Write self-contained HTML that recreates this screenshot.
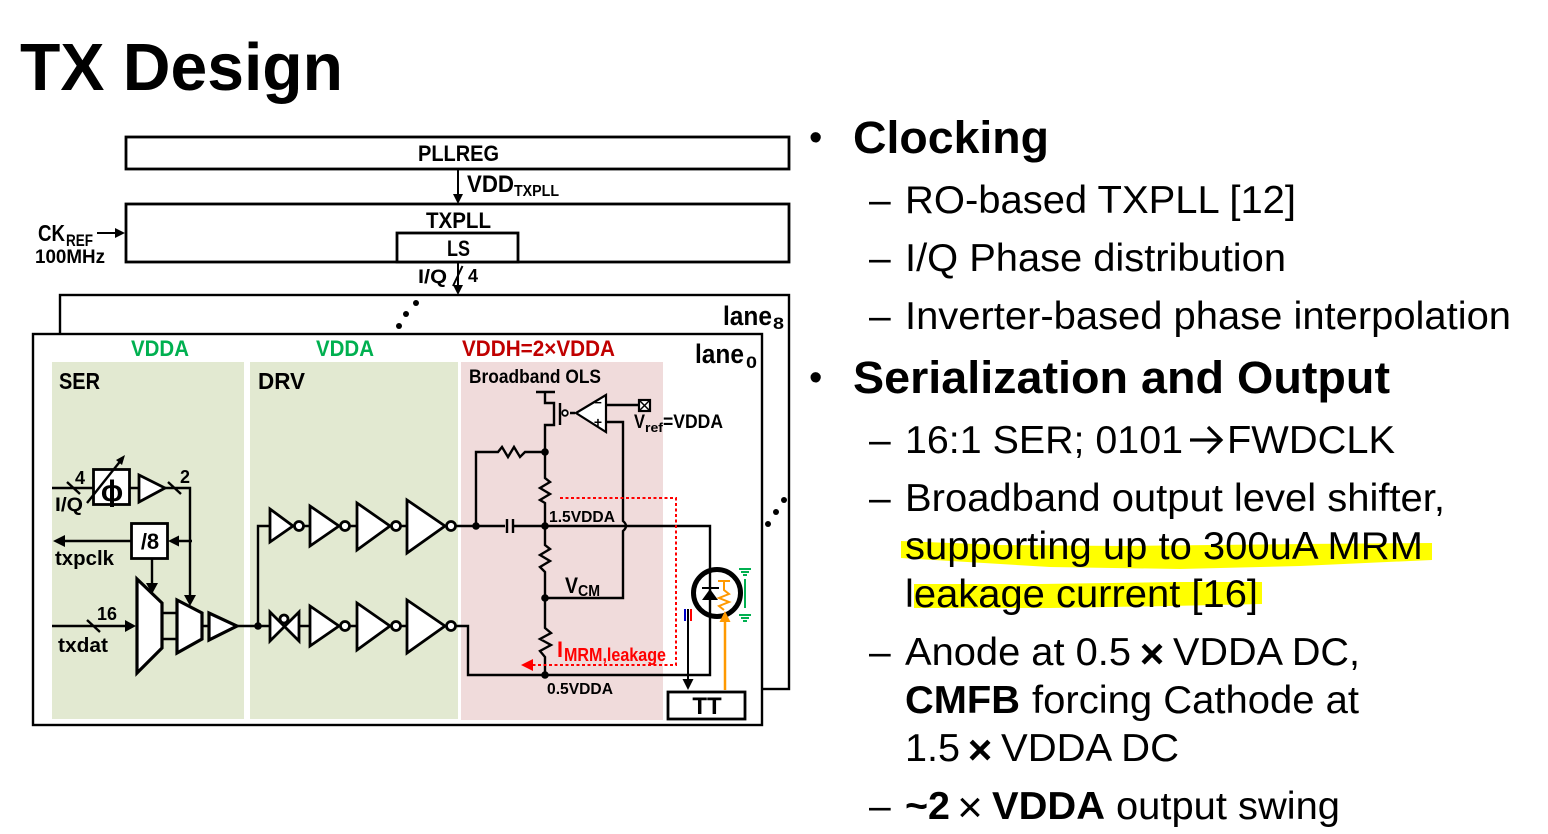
<!DOCTYPE html>
<html><head><meta charset="utf-8"><style>
html,body{margin:0;padding:0;background:#fff}
svg{display:block}
text{font-family:"Liberation Sans",sans-serif;fill:#000}
.b{font-weight:bold}
.l{font-weight:bold;font-size:22px}
.s{font-weight:bold;font-size:14px}
.t{font-size:39px}
.h{font-size:45px;font-weight:bold}
.w{fill:none;stroke:#000;stroke-width:2.4}
.g{fill:#fff;stroke:#000;stroke-width:3.2}
.c{fill:#fff;stroke:#000;stroke-width:2.8}
</style></head><body>
<svg xmlns="http://www.w3.org/2000/svg" width="1548" height="834" viewBox="0 0 1548 834">
<rect width="1548" height="834" fill="#fff"/>
<text x="20" y="90" class="b" font-size="67" textLength="323" lengthAdjust="spacingAndGlyphs">TX Design</text>

<!-- top blocks -->
<rect x="126" y="137" width="663" height="32" fill="#fff" stroke="#000" stroke-width="2.8"/>
<rect x="126" y="204" width="663" height="58" fill="#fff" stroke="#000" stroke-width="2.8"/>
<rect x="397" y="233" width="121" height="29" fill="#fff" stroke="#000" stroke-width="2.8"/>
<text x="418" y="161" class="l" textLength="81" lengthAdjust="spacingAndGlyphs">PLLREG</text>
<text x="426" y="228" class="l" textLength="65" lengthAdjust="spacingAndGlyphs">TXPLL</text>
<text x="447" y="256" class="l" textLength="23" lengthAdjust="spacingAndGlyphs">LS</text>
<path class="w" d="M458 169V198M458 262V288M462.500 266L453 286M97 233H118" style="stroke-width:2"/>
<path d="M458 204l-5-10h10zM458 295l-5-10h10zM125 233l-10-5v10z"/>
<text x="467" y="192" class="l" style="font-size:24px" textLength="47" lengthAdjust="spacingAndGlyphs">VDD</text>
<text x="514" y="196" class="s" style="font-size:16px" textLength="45" lengthAdjust="spacingAndGlyphs">TXPLL</text>
<text x="38" y="241" class="l" style="font-size:23px" textLength="27" lengthAdjust="spacingAndGlyphs">CK</text>
<text x="66" y="246" class="s" style="font-size:17px" textLength="27" lengthAdjust="spacingAndGlyphs">REF</text>
<text x="35" y="263" class="s" style="font-size:19px" textLength="70" lengthAdjust="spacingAndGlyphs">100MHz</text>
<text x="418" y="283" class="s" style="font-size:19px" textLength="29" lengthAdjust="spacingAndGlyphs">I/Q</text>
<text x="468" y="282" class="s" style="font-size:18px" textLength="10" lengthAdjust="spacingAndGlyphs">4</text>

<!-- lanes -->
<rect x="60" y="295" width="729" height="394" fill="#fff" stroke="#000" stroke-width="2.4"/>
<rect x="33" y="334" width="729" height="391" fill="#fff" stroke="#000" stroke-width="2.4"/>
<circle cx="399" cy="326" r="3"/><circle cx="406" cy="314" r="3"/><circle cx="416" cy="303" r="3"/>
<circle cx="768" cy="524" r="3"/><circle cx="776" cy="512" r="3"/><circle cx="784" cy="500" r="3"/>
<text x="723" y="325" class="l" style="font-size:27px" textLength="49" lengthAdjust="spacingAndGlyphs">lane</text>
<text x="773" y="329" class="s" style="font-size:17px" textLength="11" lengthAdjust="spacingAndGlyphs">8</text>
<text x="695" y="363" class="l" style="font-size:27px" textLength="49" lengthAdjust="spacingAndGlyphs">lane</text>
<text x="746" y="368" class="s" style="font-size:17px" textLength="11" lengthAdjust="spacingAndGlyphs">0</text>

<!-- panels -->
<rect x="52" y="362" width="192" height="357" fill="#e2e9d1"/>
<rect x="250" y="362" width="208" height="357" fill="#e2e9d1"/>
<rect x="461" y="362" width="202" height="358" fill="#f0dbdb"/>
<text x="131" y="356" class="l" style="fill:#00b050" textLength="58" lengthAdjust="spacingAndGlyphs">VDDA</text>
<text x="316" y="356" class="l" style="fill:#00b050" textLength="58" lengthAdjust="spacingAndGlyphs">VDDA</text>
<text x="462" y="356" class="l" style="fill:#c00000" textLength="153" lengthAdjust="spacingAndGlyphs">VDDH=2×VDDA</text>
<text x="59" y="389" class="l" style="font-size:23px" textLength="41" lengthAdjust="spacingAndGlyphs">SER</text>
<text x="258" y="389" class="l" style="font-size:23px" textLength="47" lengthAdjust="spacingAndGlyphs">DRV</text>
<text x="469" y="383" class="l" style="font-size:19px" textLength="132" lengthAdjust="spacingAndGlyphs">Broadband OLS</text>

<!-- SER -->
<path class="w" d="M52 488H93M130 488H139M165 488H190V597M67 482L80 494M168 482L181 494M192 541H178M131 541H63M152 559V584M52 626H128M87 620L100 632M162 613H177M162 639H177M202 626H209M237 626H270M258 626V526H270"/>
<rect x="93.500" y="469.500" width="36" height="35" class="c"/>
<text x="112" y="501" text-anchor="middle" class="b" font-size="30">ϕ</text>
<path class="w" d="M87 503L122 459"/><path d="M125 455l-9 5 6 5z"/>
<polygon class="c" points="139,475 139,502 165,488"/>
<rect x="131.500" y="523.500" width="36" height="35" class="c"/>
<text x="150" y="549" text-anchor="middle" class="l" style="font-size:22px">/8</text>
<path d="M168 541l11-5.500v11zM53 541l12-6v12zM136 626l-11-6v12z"/>
<polygon class="g" points="137,579 162,603 162,648 137,673"/>
<polygon class="g" points="177,600 202,613 202,639 177,653"/>
<path d="M190 606l-6-11h12z"/><path d="M152 594l-6-11h12z"/>
<polygon class="g" points="209,613 209,640 237,626"/>
<text x="75" y="484" class="s" style="font-size:18px" textLength="10" lengthAdjust="spacingAndGlyphs">4</text>
<text x="180" y="483" class="s" style="font-size:18px" textLength="10" lengthAdjust="spacingAndGlyphs">2</text>
<text x="55" y="511" class="s" style="font-size:19px" textLength="28" lengthAdjust="spacingAndGlyphs">I/Q</text>
<text x="55" y="565" class="s" style="font-size:20px" textLength="59" lengthAdjust="spacingAndGlyphs">txpclk</text>
<text x="97" y="620" class="s" style="font-size:18px" textLength="20" lengthAdjust="spacingAndGlyphs">16</text>
<text x="58" y="652" class="s" style="font-size:20px" textLength="50" lengthAdjust="spacingAndGlyphs">txdat</text>

<!-- DRV -->
<path class="w" d="M303 526H310M349 526H357M400 526H407M455 526H507M513 526H710V675H468V626H455M299 626H310M349 626H357M400 626H407"/>
<polygon class="c" points="270,509 270,542 293,526"/><circle cx="299" cy="526" r="4.500" class="c"/>
<polygon class="c" points="310,506 310,546 339,526"/><circle cx="345" cy="526" r="4.500" class="c"/>
<polygon class="c" points="357,503 357,550 390,526"/><circle cx="396" cy="526" r="4.500" class="c"/>
<polygon class="c" points="407,500 407,553 445,526"/><circle cx="451" cy="526" r="4.500" class="c"/>
<polygon class="c" points="270,612 270,641 299,612 299,641"/><circle cx="284" cy="619" r="4" class="c"/>
<polygon class="c" points="310,606 310,646 339,626"/><circle cx="345" cy="626" r="4.500" class="c"/>
<polygon class="c" points="357,603 357,650 390,626"/><circle cx="396" cy="626" r="4.500" class="c"/>
<polygon class="c" points="407,600 407,653 445,626"/><circle cx="451" cy="626" r="4.500" class="c"/>
<circle cx="258" cy="626" r="3.800"/><circle cx="476" cy="526" r="3.800"/>

<!-- OLS -->
<rect x="505" y="519" width="9" height="15" fill="#f0dbdb"/>
<path class="w" d="M507 519V533M513 519V533M476 526V452H498L502 447L508 457L514 447L520 457L525 452H545M536 392H555M545 392V403H554V425H545V478L550 482L540 488L550 494L540 500L545 503V545L550 549L540 555L550 561L540 567L545 572V628L551 633L540 639L551 645L540 651L545 657V675M560 403V425M570 413H575M606 405H638M606 422H623V521Q629 526 623 531V598H545"/>
<circle cx="565" cy="413" r="2.800" fill="#fff" stroke="#000" stroke-width="1.800"/>
<polygon class="c" points="576,413 606,395 606,432" style="stroke-width:2.200"/>
<text x="598" y="407" class="s" style="font-size:13px" text-anchor="middle">−</text>
<text x="598" y="427" class="s" style="font-size:14px" text-anchor="middle">+</text>
<rect x="639" y="400" width="11" height="11" fill="#fff" stroke="#000" stroke-width="2.200"/>
<path d="M640 401l9 9M649 401l-9 9" stroke="#000" stroke-width="1.500"/>
<circle cx="545" cy="452" r="3.800"/><circle cx="545" cy="526" r="3.800"/><circle cx="545" cy="598" r="3.800"/><circle cx="545" cy="675" r="3.800"/>
<text x="634" y="428" class="s" style="font-size:19px" textLength="11" lengthAdjust="spacingAndGlyphs">V</text>
<text x="645" y="432" class="s" style="font-size:13px" textLength="18" lengthAdjust="spacingAndGlyphs">ref</text>
<text x="663" y="428" class="s" style="font-size:19px" textLength="60" lengthAdjust="spacingAndGlyphs">=VDDA</text>
<text x="549" y="522" class="s" style="font-size:16px" textLength="66" lengthAdjust="spacingAndGlyphs">1.5VDDA</text>
<text x="565" y="593" class="l" textLength="13" lengthAdjust="spacingAndGlyphs">V</text>
<text x="578" y="596" class="s" style="font-size:16px" textLength="22" lengthAdjust="spacingAndGlyphs">CM</text>
<text x="557" y="657" class="l" style="fill:#ff0000;font-size:22px" textLength="6" lengthAdjust="spacingAndGlyphs">I</text>
<text x="564" y="661" class="s" style="fill:#ff0000;font-size:18px" textLength="102" lengthAdjust="spacingAndGlyphs">MRM,leakage</text>
<text x="547" y="694" class="s" style="font-size:16px" textLength="66" lengthAdjust="spacingAndGlyphs">0.5VDDA</text>
<path d="M560 498H676V665H530" fill="none" stroke="#f00" stroke-width="2" stroke-dasharray="3 2.500"/>
<path d="M521 665l12-6v12z" fill="#f00"/>

<!-- ring -->
<circle cx="717" cy="593" r="23.500" fill="none" stroke="#000" stroke-width="5"/>
<path d="M702 588H719" stroke="#000" stroke-width="2"/>
<path d="M710 589l8 11h-16z"/>
<path d="M718 581H730M724 581V590L729 594L719 598L729 602L719 606L724 610" fill="none" stroke="#f90" stroke-width="2"/>
<path d="M725 690V620" stroke="#f90" stroke-width="2.500"/>
<path d="M725 611l5.500 11h-11z" fill="#f90"/>
<path d="M745 579V608" stroke="#00b050" stroke-width="2"/>
<path d="M739 569H751M741 572H749M743 575H747M739 615H751M741 618H749M743 621H747" stroke="#00b050" stroke-width="2"/>
<path d="M685 609V621" stroke="#0000c8" stroke-width="2"/>
<path d="M691 609V621" stroke="#f00" stroke-width="2"/>
<path d="M688 609V682" stroke="#000" stroke-width="2"/>
<path d="M688 690l-5.500-11h11z"/>
<rect x="668" y="692" width="77" height="27" fill="#fff" stroke="#000" stroke-width="2.800"/>
<text x="707" y="714" class="l" text-anchor="middle" style="font-size:24px">TT</text>

<!-- highlight -->
<path d="M901 541L1000 545L1120 546L1300 544L1432 543L1432 560L1300 566L1180 569L1050 567L901 558Z" fill="#ffff00"/>
<path d="M914 584L1040 584L1180 582L1262 582L1262 604L1170 606L1050 608L914 608Z" fill="#ffff00"/>

<!-- text -->
<text x="809" y="150" font-size="38">•</text>
<text x="853" y="153" class="h" textLength="196" lengthAdjust="spacingAndGlyphs">Clocking</text>
<text x="869" y="213" class="t">–</text>
<text x="905" y="213" class="t" textLength="391" lengthAdjust="spacingAndGlyphs">RO-based TXPLL [12]</text>
<text x="869" y="271" class="t">–</text>
<text x="905" y="271" class="t" textLength="381" lengthAdjust="spacingAndGlyphs">I/Q Phase distribution</text>
<text x="869" y="329" class="t">–</text>
<text x="905" y="329" class="t" textLength="606" lengthAdjust="spacingAndGlyphs">Inverter-based phase interpolation</text>
<text x="809" y="390" font-size="38">•</text>
<text x="853" y="393" class="h" textLength="537" lengthAdjust="spacingAndGlyphs">Serialization and Output</text>
<text x="869" y="453" class="t">–</text>
<text x="905" y="453" class="t" textLength="278" lengthAdjust="spacingAndGlyphs">16:1 SER; 0101</text>
<path d="M1190 440H1221M1208 427L1221 440L1208 453" fill="none" stroke="#000" stroke-width="3.200"/>
<text x="1227" y="453" class="t" textLength="168" lengthAdjust="spacingAndGlyphs">FWDCLK</text>
<text x="869" y="511" class="t">–</text>
<text x="905" y="511" class="t" textLength="540" lengthAdjust="spacingAndGlyphs">Broadband output level shifter,</text>
<text x="905" y="559" class="t" textLength="518" lengthAdjust="spacingAndGlyphs">supporting up to 300uA MRM</text>
<text x="905" y="607" class="t" textLength="353" lengthAdjust="spacingAndGlyphs">leakage current [16]</text>
<text x="869" y="665" class="t">–</text>
<text x="905" y="665" class="t" textLength="226" lengthAdjust="spacingAndGlyphs">Anode at 0.5</text>
<text x="1152" y="668" class="b" font-size="42" text-anchor="middle">×</text>
<text x="1173" y="665" class="t" textLength="187" lengthAdjust="spacingAndGlyphs">VDDA DC,</text>
<text x="905" y="713" class="t b" textLength="115" lengthAdjust="spacingAndGlyphs">CMFB</text>
<text x="1032" y="713" class="t" textLength="327" lengthAdjust="spacingAndGlyphs">forcing Cathode at</text>
<text x="905" y="761" class="t" textLength="55" lengthAdjust="spacingAndGlyphs">1.5</text>
<text x="980" y="764" class="b" font-size="42" text-anchor="middle">×</text>
<text x="1001" y="761" class="t" textLength="178" lengthAdjust="spacingAndGlyphs">VDDA DC</text>
<text x="869" y="819" class="t">–</text>
<text x="905" y="819" class="t b" textLength="45" lengthAdjust="spacingAndGlyphs">~2</text>
<text x="970" y="822" font-size="44" text-anchor="middle">×</text>
<text x="992" y="819" class="t b" textLength="113" lengthAdjust="spacingAndGlyphs">VDDA</text>
<text x="1116" y="819" class="t" textLength="224" lengthAdjust="spacingAndGlyphs">output swing</text>
</svg>
</body></html>
